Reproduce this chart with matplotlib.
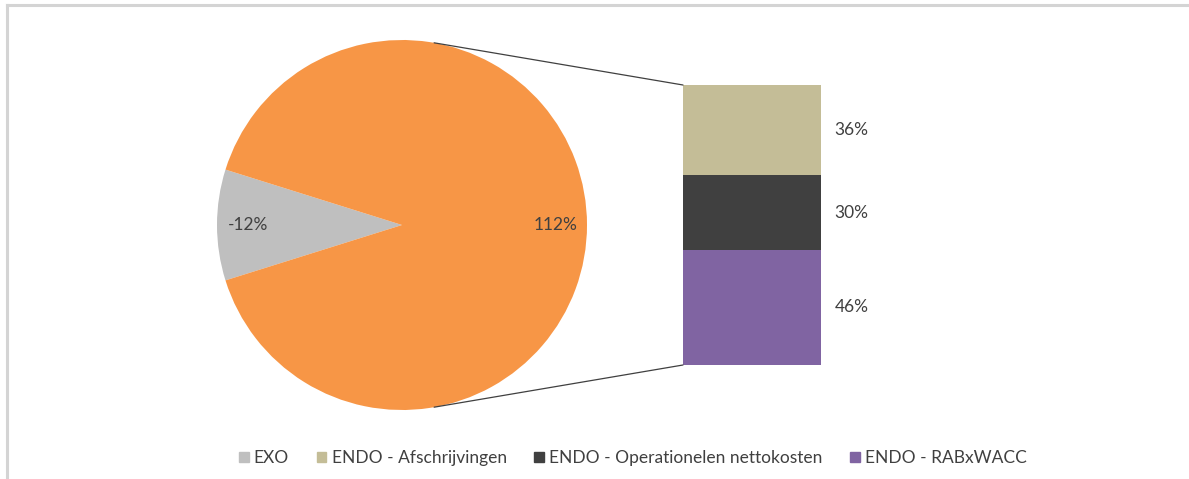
import numpy as np
import matplotlib
matplotlib.use("Agg")
import matplotlib.pyplot as plt
from matplotlib.patches import Patch, ConnectionPatch
from matplotlib.lines import Line2D

plt.rcParams['font.family'] = ['Lato', 'DejaVu Sans']

# data
pie_labels = ['EXO', 'ENDO']
pie_values = [-12, 112]
pie_colors = ['#BFBFBF', '#F79646']

bar_labels = ['ENDO - RABxWACC', 'ENDO - Operationelen nettokosten', 'ENDO - Afschrijvingen']
bar_values = [46, 30, 36]
bar_colors = ['#8064A2', '#404040', '#C4BD97']

txt_color = '#404040'

W, H = 1189, 479
fig = plt.figure(figsize=(W / 100, H / 100), dpi=100)

# pie: centre (402,225), radius 185 px
cx, cy, r = 402, 225, 185
ax1 = fig.add_axes([(cx - r) / W, (H - cy - r) / H, 2 * r / W, 2 * r / H])
sizes = [abs(v) for v in pie_values]
grey_share = sizes[0] / sum(sizes) * 360
wedges, _ = ax1.pie(sizes, colors=pie_colors, startangle=180 - grey_share / 2,
                    radius=1, wedgeprops=dict(linewidth=0))
ax1.set_xlim(-1, 1)
ax1.set_ylim(-1, 1)
ax1.set_aspect('equal')
ax1.axis('off')
for w, v in zip(wedges, pie_values):
    ang = np.deg2rad((w.theta1 + w.theta2) / 2)
    ax1.text(0.83 * np.cos(ang), 0.83 * np.sin(ang), f"{v}%", ha='center', va='center',
             fontsize=12.5, color=txt_color)

# stacked bar: x 683-821, y 85-365 px
ax2 = fig.add_axes([683 / W, (H - 365) / H, 138 / W, 280 / H])
bottom = 0
for v, c in zip(bar_values, bar_colors):
    ax2.bar(0, v, width=1, bottom=bottom, color=c, linewidth=0)
    ax2.text(0.6, bottom + v / 2, f"{v}%", ha='left', va='center',
             fontsize=12.5, color=txt_color)
    bottom += v
ax2.set_xlim(-0.5, 0.5)
ax2.set_ylim(0, sum(bar_values))
ax2.axis('off')

# connector lines
for ang_deg, yb in [(80, sum(bar_values)), (-80, 0)]:
    a = np.deg2rad(ang_deg)
    con = ConnectionPatch(xyA=(np.cos(a), np.sin(a)), coordsA=ax1.transData,
                          xyB=(-0.5, yb), coordsB=ax2.transData,
                          color='#404040', linewidth=0.9)
    fig.add_artist(con)

# legend
handles = [Patch(color=pie_colors[0], label=pie_labels[0])]
for lab, c in zip(bar_labels[::-1], bar_colors[::-1]):
    handles.append(Patch(color=c, label=lab))
fig.legend(handles=handles, loc='center', bbox_to_anchor=(633 / W, (H - 458) / H),
           ncol=4, frameon=False, fontsize=12.5, handlelength=0.55, handleheight=0.55,
           handletextpad=0.3, columnspacing=1.6, labelcolor=txt_color)

# outer frame (top and left edges)
fig.add_artist(Line2D([7 / W, 1], [1 - 5 / H, 1 - 5 / H], color='#D4D4D4', linewidth=2.2))
fig.add_artist(Line2D([7 / W, 7 / W], [0, 1 - 5 / H], color='#D4D4D4', linewidth=2.2))

fig.savefig('out.png', dpi=100)
